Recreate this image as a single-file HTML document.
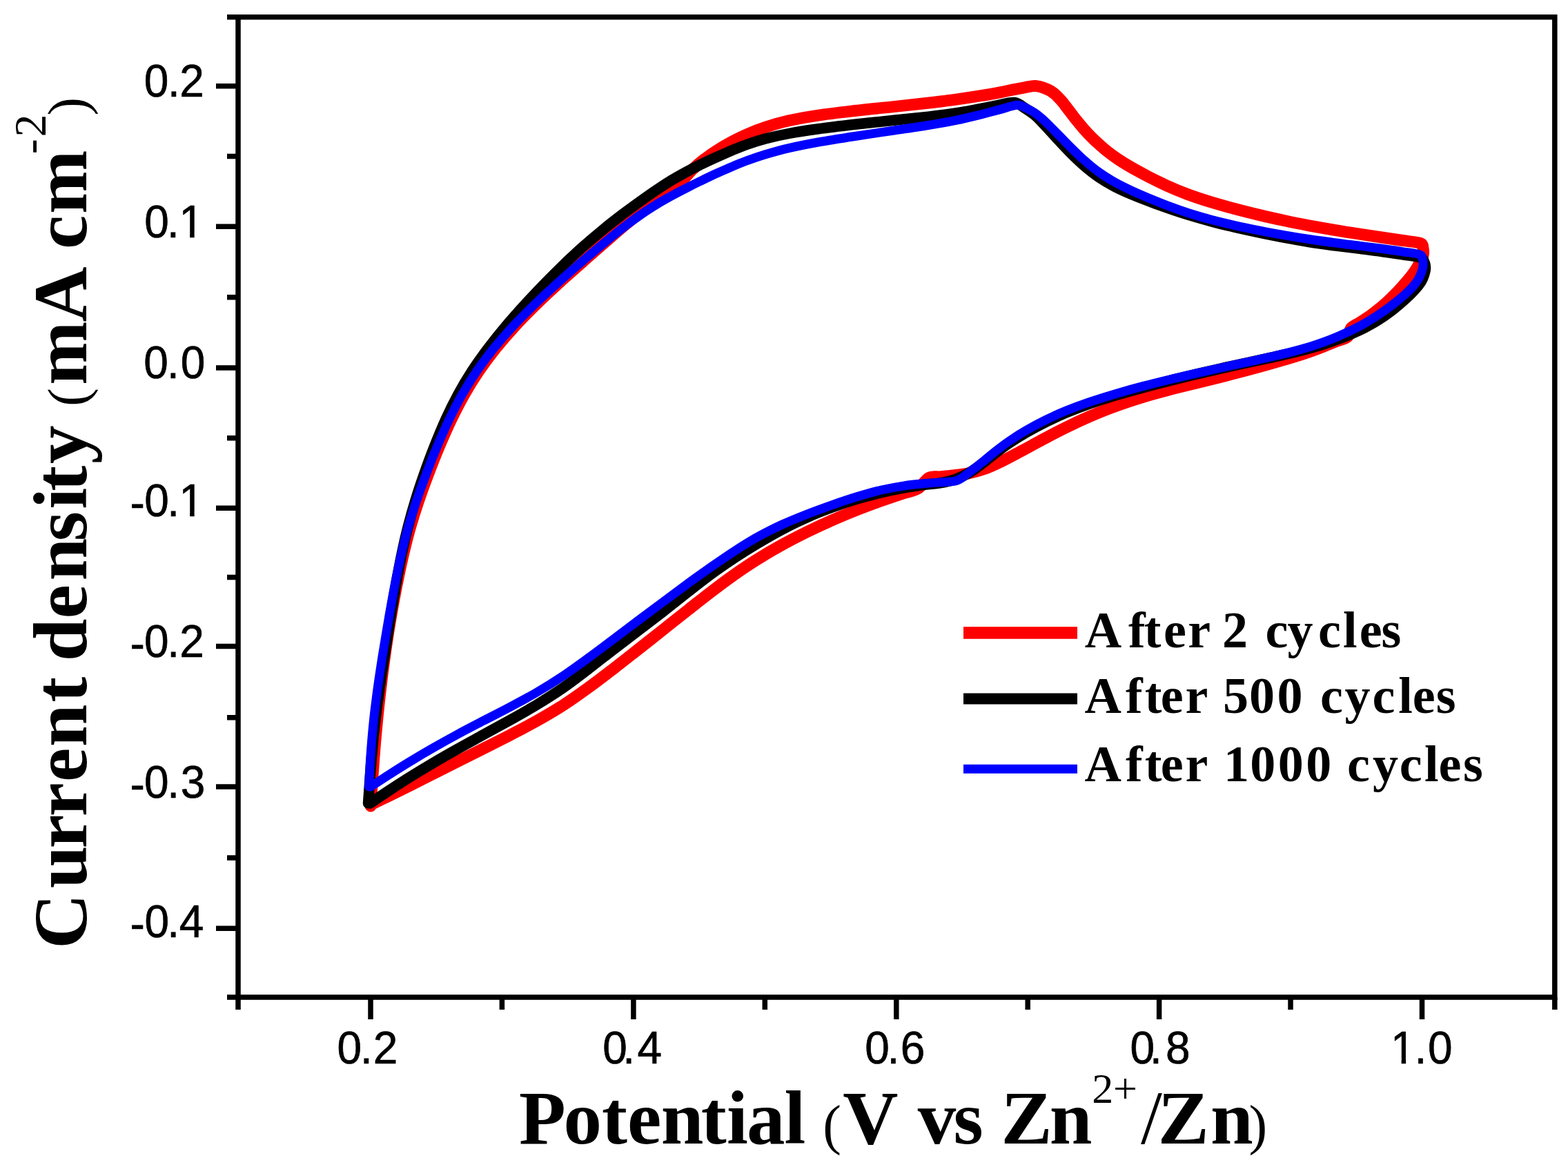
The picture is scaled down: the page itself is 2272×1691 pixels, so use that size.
<!DOCTYPE html>
<html><head><meta charset="utf-8">
<style>
html,body{margin:0;padding:0;background:#fff;width:2272px;height:1691px;overflow:hidden}
svg{display:block}
.tk{font-family:"Liberation Sans",Arial,sans-serif;font-size:67px;fill:#000}
.tb{font-family:"Liberation Serif","Times New Roman",serif;font-weight:bold;fill:#000}
.tr{font-family:"Liberation Serif","Times New Roman",serif;font-weight:normal;fill:#000}
</style></head><body>
<svg width="2272" height="1691" viewBox="0 0 2272 1691" xmlns="http://www.w3.org/2000/svg">
<rect x="0" y="0" width="2272" height="1691" fill="#fff"/>
<g id="curves" fill="none" stroke-linejoin="round" stroke-linecap="round">
<path d="M537.0,1168.0 C537.6,1159.2 539.2,1133.4 540.6,1115.1 C541.9,1096.8 543.4,1077.1 545.2,1058.2 C546.9,1039.2 549.0,1019.1 551.1,1001.5 C553.1,983.9 555.2,967.6 557.3,952.9 C559.3,938.1 561.2,925.9 563.2,913.0 C565.3,900.1 567.3,888.2 569.6,875.6 C571.9,862.9 574.4,849.7 577.1,836.9 C579.7,824.1 582.5,811.1 585.5,798.7 C588.5,786.2 591.5,774.4 595.0,762.2 C598.5,750.1 602.2,738.4 606.4,726.0 C610.6,713.6 615.1,701.0 620.1,688.1 C625.0,675.1 630.3,661.5 635.9,648.2 C641.5,634.9 647.5,621.1 653.6,608.3 C659.8,595.5 666.2,583.0 672.9,571.2 C679.6,559.4 686.4,548.5 693.9,537.5 C701.5,526.5 709.3,515.9 718.1,504.9 C727.0,493.9 736.7,482.7 747.1,471.4 C757.4,460.2 769.0,448.7 780.4,437.6 C791.9,426.4 804.2,415.3 815.9,404.6 C827.7,394.0 839.8,383.4 850.8,373.7 C861.7,364.0 872.3,354.7 881.8,346.5 C891.2,338.3 899.5,331.1 907.5,324.5 C915.5,317.9 922.7,312.4 930.0,307.0 C937.4,301.6 944.6,296.8 951.5,291.9 C958.3,286.9 965.1,282.3 971.2,277.4 C977.3,272.4 982.8,267.5 988.1,262.2 C993.4,257.0 997.7,251.2 1003.0,246.0 C1008.3,240.8 1013.9,236.1 1020.0,231.3 C1026.0,226.6 1032.6,221.9 1039.4,217.6 C1046.2,213.2 1053.4,209.1 1060.7,205.2 C1068.1,201.4 1075.2,197.8 1083.4,194.3 C1091.6,190.7 1100.0,187.3 1109.9,184.1 C1119.9,180.8 1130.5,177.6 1143.1,174.8 C1155.8,172.0 1169.8,169.4 1185.8,167.1 C1201.7,164.7 1220.5,162.6 1238.7,160.5 C1256.9,158.4 1277.4,156.5 1295.0,154.6 C1312.6,152.7 1329.1,151.0 1344.2,149.3 C1359.3,147.5 1372.7,145.9 1385.6,144.1 C1398.5,142.3 1411.0,140.4 1421.6,138.7 C1432.1,137.0 1441.2,135.3 1449.1,133.8 C1456.9,132.3 1462.5,131.0 1468.4,129.8 C1474.4,128.6 1479.3,127.7 1484.6,126.8 C1489.8,125.9 1495.0,124.3 1500.0,124.5 C1505.0,124.7 1509.9,126.3 1514.4,128.1 C1518.9,129.8 1523.0,131.9 1526.9,135.0 C1530.9,138.0 1534.4,142.0 1538.1,146.2 C1541.7,150.4 1545.3,155.5 1549.0,160.1 C1552.7,164.8 1556.3,169.8 1560.0,174.4 C1563.7,178.9 1567.3,183.4 1571.0,187.6 C1574.7,191.7 1578.3,195.5 1582.0,199.2 C1585.7,202.9 1589.2,206.2 1593.1,209.6 C1596.9,213.0 1600.5,216.2 1604.9,219.7 C1609.3,223.2 1613.8,226.6 1619.5,230.4 C1625.2,234.2 1631.8,238.3 1639.2,242.5 C1646.5,246.7 1655.0,251.3 1663.5,255.7 C1672.1,260.1 1681.1,264.7 1690.5,268.9 C1700.0,273.2 1709.7,277.3 1720.1,281.2 C1730.6,285.1 1741.8,288.8 1753.3,292.4 C1764.8,295.9 1777.0,299.3 1789.0,302.5 C1801.0,305.7 1813.2,308.8 1825.3,311.6 C1837.4,314.5 1849.5,317.2 1861.6,319.8 C1873.7,322.4 1885.9,324.8 1897.9,327.1 C1909.9,329.3 1921.9,331.4 1933.7,333.4 C1945.4,335.4 1957.0,337.2 1968.4,338.9 C1979.8,340.7 1991.3,342.4 2002.0,344.0 C2012.6,345.6 2023.0,347.1 2032.3,348.5 C2041.7,350.0 2053.1,350.6 2058.0,352.5 C2062.9,354.4 2061.3,357.1 2062.0,360.0 C2062.7,362.9 2062.8,366.6 2062.0,370.0 C2061.2,373.4 2059.1,377.0 2057.2,380.7 C2055.3,384.3 2053.5,387.8 2050.6,391.9 C2047.8,396.1 2044.4,400.6 2040.0,405.8 C2035.7,411.0 2030.2,417.3 2024.5,423.2 C2018.8,429.1 2012.1,435.7 2005.9,441.2 C1999.7,446.7 1993.0,451.8 1987.2,456.1 C1981.4,460.4 1975.9,463.8 1971.0,466.9 C1966.1,470.1 1961.1,471.5 1958.0,475.0 C1954.9,478.5 1956.2,484.7 1952.6,488.0 C1949.0,491.3 1942.0,492.4 1936.3,494.7 C1930.6,497.0 1924.7,499.4 1918.3,501.9 C1911.9,504.4 1905.3,507.0 1897.7,509.6 C1890.0,512.3 1881.7,515.0 1872.2,517.9 C1862.7,520.8 1851.8,523.9 1840.7,527.0 C1829.5,530.2 1817.2,533.6 1805.3,536.7 C1793.3,539.9 1781.1,543.1 1769.0,546.2 C1756.8,549.3 1744.8,552.2 1732.6,555.3 C1720.3,558.3 1708.2,561.1 1695.6,564.4 C1683.0,567.7 1670.0,571.1 1657.0,575.0 C1643.9,579.0 1630.2,583.4 1617.2,588.2 C1604.1,592.9 1591.0,598.2 1578.5,603.6 C1566.0,609.0 1553.8,614.8 1542.2,620.6 C1530.5,626.3 1519.3,632.4 1508.7,638.1 C1498.1,643.7 1488.2,649.3 1478.6,654.3 C1469.0,659.4 1460.1,664.3 1451.3,668.5 C1442.6,672.7 1434.4,676.6 1426.3,679.5 C1418.3,682.3 1410.5,684.3 1403.0,685.8 C1395.5,687.4 1388.0,688.1 1381.2,688.9 C1374.4,689.7 1368.0,690.3 1362.1,690.9 C1356.2,691.4 1351.4,689.3 1346.0,692.2 C1340.6,695.1 1336.6,704.1 1330.0,708.0 C1323.4,711.9 1315.4,712.6 1306.5,715.6 C1297.6,718.5 1287.4,721.9 1276.6,725.8 C1265.8,729.7 1253.5,734.2 1241.6,738.9 C1229.7,743.6 1217.4,748.7 1205.3,754.1 C1193.2,759.4 1181.1,765.0 1169.0,770.9 C1156.9,776.9 1144.6,783.2 1132.6,789.8 C1120.6,796.4 1108.5,803.5 1097.0,810.7 C1085.4,817.9 1074.3,825.4 1063.3,833.2 C1052.3,840.9 1041.9,848.8 1030.9,857.2 C1019.9,865.6 1008.8,874.5 997.2,883.6 C985.7,892.7 973.6,902.3 961.6,911.8 C949.6,921.3 937.4,931.0 925.3,940.5 C913.2,950.0 901.1,959.6 889.0,968.9 C876.9,978.2 864.8,987.6 852.6,996.4 C840.5,1005.2 828.4,1013.8 816.0,1021.8 C803.5,1029.8 790.9,1037.2 778.1,1044.4 C765.3,1051.6 752.0,1058.4 739.0,1065.2 C726.0,1071.9 712.7,1078.5 700.1,1084.9 C687.4,1091.3 675.0,1097.4 663.1,1103.4 C651.1,1109.4 639.7,1115.1 628.4,1120.8 C617.1,1126.5 605.8,1132.3 595.2,1137.6 C584.5,1142.9 574.1,1148.1 564.4,1152.8 C554.7,1157.5 541.6,1163.8 537.0,1166.0" stroke="#f00" stroke-width="17"/>
<path d="M533.5,1164.0 C534.0,1157.0 535.5,1135.7 536.5,1122.1 C537.5,1108.5 538.5,1095.8 539.8,1082.4 C541.0,1068.9 542.4,1055.8 544.1,1041.4 C545.8,1027.1 548.0,1011.4 550.1,996.5 C552.2,981.6 554.6,966.2 556.8,952.2 C558.9,938.3 560.9,925.8 562.9,913.0 C564.9,900.2 566.8,888.2 568.9,875.6 C571.0,862.9 573.2,849.7 575.5,836.9 C577.9,824.1 580.3,811.1 583.0,798.7 C585.6,786.2 588.3,774.4 591.5,762.2 C594.6,750.1 597.9,738.4 601.7,726.0 C605.5,713.6 609.7,701.0 614.2,688.1 C618.8,675.1 623.7,661.5 629.0,648.2 C634.2,634.9 639.8,621.2 645.6,608.4 C651.4,595.6 657.5,583.2 663.9,571.4 C670.3,559.6 676.8,548.8 684.1,537.5 C691.5,526.2 699.2,515.4 708.1,503.8 C716.9,492.3 726.7,480.1 737.1,467.9 C747.5,455.8 758.9,443.0 770.4,430.8 C781.8,418.5 793.9,406.1 805.7,394.4 C817.5,382.7 829.8,371.1 841.4,360.6 C853.0,350.2 864.6,340.3 875.2,331.7 C885.7,323.0 895.6,315.6 904.6,308.7 C913.7,301.9 921.6,296.1 929.5,290.5 C937.3,284.9 944.5,279.8 951.9,274.9 C959.2,269.9 966.4,265.3 973.6,260.9 C980.9,256.6 988.1,252.5 995.4,248.6 C1002.6,244.7 1009.9,241.0 1017.1,237.5 C1024.4,234.0 1031.7,230.6 1038.9,227.4 C1046.2,224.1 1053.3,220.9 1060.7,217.8 C1068.1,214.8 1075.2,211.8 1083.4,209.0 C1091.6,206.1 1100.0,203.4 1109.9,200.8 C1119.9,198.2 1130.5,195.8 1143.1,193.5 C1155.8,191.1 1169.8,189.0 1185.8,186.8 C1201.7,184.6 1220.5,182.4 1238.7,180.3 C1257.0,178.2 1277.7,176.2 1295.5,174.3 C1313.2,172.4 1330.2,170.8 1345.1,169.1 C1360.0,167.4 1372.7,165.8 1385.0,163.9 C1397.2,162.1 1408.2,159.8 1418.5,157.9 C1428.8,156.0 1438.1,154.0 1446.7,152.4 C1455.3,150.8 1463.5,147.7 1470.0,148.5 C1476.5,149.3 1480.8,154.1 1485.6,157.0 C1490.4,160.0 1494.7,163.0 1498.7,166.2 C1502.6,169.5 1505.8,172.7 1509.3,176.4 C1512.9,180.0 1516.1,183.7 1520.1,188.1 C1524.1,192.5 1528.4,197.4 1533.5,202.8 C1538.7,208.3 1544.6,214.8 1550.8,221.0 C1557.0,227.2 1564.0,234.1 1571.0,240.1 C1577.9,246.1 1585.1,251.8 1592.5,256.9 C1599.9,261.9 1607.1,266.1 1615.2,270.4 C1623.3,274.6 1632.0,278.4 1641.0,282.2 C1650.0,286.0 1660.0,289.8 1669.2,293.2 C1678.5,296.7 1687.4,299.8 1696.3,302.9 C1705.3,306.0 1713.4,308.7 1723.0,311.6 C1732.6,314.5 1742.9,317.5 1753.9,320.4 C1764.9,323.4 1777.1,326.4 1789.0,329.2 C1800.9,331.9 1813.2,334.6 1825.3,337.1 C1837.4,339.7 1849.5,342.2 1861.6,344.4 C1873.7,346.7 1885.9,348.9 1897.9,350.8 C1909.9,352.7 1921.9,354.3 1933.7,355.9 C1945.4,357.4 1957.0,358.7 1968.4,360.1 C1979.8,361.6 1991.3,363.0 2001.9,364.5 C2012.5,365.9 2022.8,367.4 2031.9,368.8 C2041.1,370.3 2051.8,371.5 2057.0,373.0 C2062.2,374.5 2061.6,375.5 2063.0,378.0 C2064.4,380.5 2065.4,384.6 2065.5,388.0 C2065.6,391.4 2064.6,394.7 2063.5,398.2 C2062.4,401.6 2061.3,404.8 2059.0,408.5 C2056.6,412.2 2053.5,416.1 2049.4,420.5 C2045.3,425.0 2039.8,430.3 2034.2,435.3 C2028.5,440.4 2021.9,446.0 2015.6,450.8 C2009.3,455.6 2002.7,460.2 1996.2,464.3 C1989.8,468.3 1983.3,471.8 1976.9,475.2 C1970.4,478.5 1964.0,481.3 1957.5,484.1 C1951.0,486.9 1944.6,489.4 1938.1,491.8 C1931.6,494.2 1925.3,496.4 1918.6,498.5 C1911.9,500.7 1905.4,502.6 1897.7,504.7 C1889.9,506.9 1881.7,508.9 1872.2,511.2 C1862.7,513.5 1851.8,515.9 1840.7,518.4 C1829.5,520.9 1817.2,523.4 1805.3,526.0 C1793.3,528.6 1781.1,531.2 1769.0,534.0 C1756.9,536.7 1744.8,539.5 1732.6,542.4 C1720.4,545.3 1708.3,548.3 1695.7,551.4 C1683.1,554.6 1670.1,557.9 1657.0,561.5 C1643.9,565.0 1630.2,568.8 1617.2,572.7 C1604.2,576.6 1591.1,580.8 1579.1,585.0 C1567.0,589.2 1555.7,593.5 1545.0,597.9 C1534.3,602.4 1524.5,607.0 1514.9,611.7 C1505.3,616.4 1496.3,621.3 1487.7,626.2 C1479.1,631.1 1470.8,636.2 1463.3,641.3 C1455.7,646.3 1448.9,651.4 1442.3,656.5 C1435.7,661.5 1429.8,666.7 1423.6,671.4 C1417.3,676.1 1411.4,680.9 1404.8,684.7 C1398.3,688.6 1391.4,692.0 1384.3,694.5 C1377.2,697.1 1369.5,698.6 1362.1,699.9 C1354.8,701.2 1348.6,701.1 1340.0,702.3 C1331.4,703.5 1320.7,705.0 1310.3,706.9 C1299.8,708.8 1288.7,711.0 1277.2,713.7 C1265.8,716.4 1253.6,719.6 1241.6,723.2 C1229.6,726.8 1217.4,730.8 1205.3,735.3 C1193.2,739.7 1181.1,744.4 1169.0,749.8 C1156.9,755.2 1144.6,761.2 1132.6,767.6 C1120.6,773.9 1108.5,781.0 1097.0,787.9 C1085.4,794.8 1074.3,801.7 1063.3,809.0 C1052.3,816.3 1041.9,823.4 1030.9,831.5 C1019.9,839.6 1008.8,848.4 997.2,857.4 C985.7,866.4 973.6,876.2 961.6,885.5 C949.6,894.8 937.4,904.1 925.3,913.3 C913.2,922.5 901.1,931.7 889.0,941.0 C876.9,950.3 864.8,960.1 852.6,969.3 C840.5,978.6 828.4,987.9 816.0,996.6 C803.5,1005.2 790.9,1013.2 778.1,1021.0 C765.3,1028.9 752.0,1036.2 739.0,1043.5 C726.0,1050.7 712.7,1057.9 700.1,1064.8 C687.4,1071.8 675.0,1078.5 663.1,1085.2 C651.1,1091.9 639.7,1098.4 628.4,1105.1 C617.1,1111.8 605.8,1118.6 595.1,1125.3 C584.4,1132.0 573.9,1138.8 564.1,1145.2 C554.2,1151.7 540.7,1160.9 536.0,1164.0" stroke="#000" stroke-width="15.5"/>
<path d="M534.5,1140.0 C534.9,1132.5 535.9,1110.7 537.0,1095.2 C538.1,1079.8 539.4,1063.5 541.1,1047.2 C542.7,1030.9 545.0,1013.4 547.1,997.6 C549.3,981.8 551.7,966.4 553.9,952.2 C556.2,938.1 558.3,925.8 560.4,913.0 C562.6,900.2 564.6,888.2 566.9,875.6 C569.2,862.9 571.6,849.7 574.2,836.9 C576.8,824.1 579.5,811.1 582.5,798.7 C585.5,786.2 588.5,774.4 592.0,762.2 C595.5,750.1 599.2,738.4 603.4,726.0 C607.6,713.6 612.1,701.0 617.1,688.1 C622.0,675.1 627.3,661.5 632.9,648.2 C638.5,634.9 644.5,621.1 650.6,608.3 C656.8,595.5 663.1,583.0 669.9,571.2 C676.6,559.4 683.4,548.5 691.0,537.5 C698.6,526.5 706.4,515.9 715.3,504.9 C724.3,493.9 734.1,482.7 744.6,471.4 C755.1,460.2 766.7,448.7 778.3,437.6 C789.9,426.4 802.3,415.2 814.1,404.6 C826.0,394.0 838.2,383.4 849.4,373.9 C860.5,364.3 871.3,355.3 880.9,347.4 C890.5,339.6 899.0,332.8 907.2,326.6 C915.3,320.3 922.5,315.1 930.0,310.0 C937.4,304.9 944.6,300.4 951.9,295.9 C959.1,291.5 966.4,287.5 973.6,283.5 C980.9,279.5 988.1,275.8 995.4,272.1 C1002.6,268.4 1009.9,264.8 1017.1,261.3 C1024.4,257.8 1031.7,254.3 1038.9,251.0 C1046.2,247.7 1053.3,244.5 1060.7,241.4 C1068.1,238.3 1075.2,235.4 1083.4,232.4 C1091.6,229.4 1100.0,226.5 1109.9,223.5 C1119.9,220.6 1130.5,217.5 1143.1,214.6 C1155.8,211.7 1169.8,208.9 1185.8,206.0 C1201.7,203.2 1220.5,200.3 1238.7,197.5 C1257.0,194.6 1277.7,191.7 1295.5,189.0 C1313.2,186.4 1330.2,184.0 1345.1,181.5 C1360.0,179.1 1372.7,176.9 1385.0,174.4 C1397.2,171.9 1408.2,169.2 1418.8,166.6 C1429.3,164.0 1439.0,161.3 1448.2,158.9 C1457.4,156.5 1467.5,152.6 1474.0,152.3 C1480.5,152.0 1483.0,155.1 1487.1,156.9 C1491.3,158.7 1495.2,160.7 1498.9,163.1 C1502.6,165.5 1505.8,168.2 1509.3,171.3 C1512.9,174.4 1516.1,177.5 1520.1,181.5 C1524.1,185.5 1528.4,189.9 1533.5,195.1 C1538.7,200.4 1544.6,206.6 1550.8,212.8 C1557.0,219.0 1564.0,226.0 1571.0,232.1 C1577.9,238.3 1585.1,244.3 1592.5,249.6 C1599.9,254.9 1607.1,259.4 1615.2,263.9 C1623.3,268.5 1632.0,272.6 1641.0,276.8 C1650.0,280.9 1660.0,285.1 1669.2,288.9 C1678.5,292.7 1687.4,296.3 1696.3,299.6 C1705.3,303.0 1713.4,305.9 1723.0,309.0 C1732.6,312.0 1742.9,315.1 1753.9,318.0 C1764.9,320.9 1777.1,323.9 1789.0,326.6 C1800.9,329.2 1813.2,331.7 1825.3,334.1 C1837.4,336.5 1849.5,338.8 1861.6,340.9 C1873.7,343.0 1885.9,345.0 1897.9,346.8 C1909.9,348.6 1921.9,350.2 1933.7,351.7 C1945.4,353.3 1957.0,354.6 1968.4,356.0 C1979.8,357.5 1991.3,358.9 2001.8,360.3 C2012.4,361.7 2022.5,363.2 2031.6,364.6 C2040.6,365.9 2051.1,366.9 2056.0,368.5 C2060.9,370.1 2060.0,371.2 2061.0,374.0 C2062.0,376.8 2062.2,381.5 2062.0,385.0 C2061.8,388.5 2060.8,391.5 2059.6,394.8 C2058.4,398.2 2057.2,401.5 2054.9,405.1 C2052.7,408.7 2049.9,412.4 2046.2,416.5 C2042.4,420.5 2037.7,425.0 2032.6,429.4 C2027.5,433.9 2021.3,438.9 2015.3,443.4 C2009.2,448.0 2002.6,452.7 1996.2,456.9 C1989.8,461.2 1983.3,465.1 1976.9,468.8 C1970.4,472.5 1964.0,475.8 1957.5,478.9 C1951.0,482.1 1944.6,484.9 1938.1,487.7 C1931.6,490.4 1925.3,492.9 1918.6,495.4 C1911.9,497.9 1905.4,500.1 1897.7,502.5 C1889.9,504.8 1881.7,507.1 1872.2,509.6 C1862.7,512.0 1851.8,514.6 1840.7,517.2 C1829.5,519.8 1817.2,522.4 1805.3,525.1 C1793.3,527.7 1781.1,530.3 1769.0,533.0 C1756.9,535.6 1744.8,538.3 1732.6,541.1 C1720.4,543.9 1708.3,546.6 1695.7,549.7 C1683.1,552.7 1670.1,555.9 1657.0,559.4 C1643.9,562.8 1630.2,566.6 1617.2,570.4 C1604.2,574.2 1591.1,578.3 1579.1,582.4 C1567.0,586.5 1555.7,590.7 1545.0,595.1 C1534.3,599.4 1524.5,603.9 1514.9,608.6 C1505.3,613.3 1496.3,618.2 1487.7,623.2 C1479.1,628.1 1470.8,633.3 1463.3,638.5 C1455.7,643.6 1448.9,648.9 1442.3,654.1 C1435.7,659.3 1429.7,664.6 1423.6,669.5 C1417.4,674.5 1411.5,679.3 1405.4,683.7 C1399.3,688.1 1394.3,693.6 1387.2,696.1 C1380.1,698.7 1370.6,698.1 1362.7,698.9 C1354.8,699.6 1348.7,699.7 1340.0,700.5 C1331.3,701.3 1320.7,702.2 1310.3,703.8 C1299.8,705.4 1288.7,707.4 1277.2,710.0 C1265.8,712.7 1253.6,716.2 1241.6,719.8 C1229.6,723.5 1217.4,727.6 1205.3,731.8 C1193.2,736.1 1180.9,740.5 1169.0,745.2 C1157.0,749.9 1144.9,754.8 1133.5,760.0 C1122.1,765.2 1111.3,770.6 1100.5,776.5 C1089.7,782.4 1079.6,788.6 1068.6,795.7 C1057.6,802.7 1046.2,810.6 1034.5,818.7 C1022.7,826.9 1010.3,835.8 998.1,844.6 C986.0,853.5 973.7,862.6 961.6,871.6 C949.5,880.6 937.4,889.7 925.3,898.7 C913.2,907.8 901.1,917.0 889.0,926.1 C876.9,935.2 864.8,944.4 852.6,953.3 C840.5,962.1 828.4,971.0 816.0,979.3 C803.5,987.6 790.9,995.5 778.1,1003.0 C765.3,1010.6 752.0,1017.5 739.0,1024.5 C726.0,1031.4 712.7,1038.0 700.0,1044.6 C687.4,1051.2 674.9,1057.6 662.9,1064.1 C651.0,1070.5 639.5,1076.9 628.2,1083.4 C616.9,1089.8 605.8,1096.4 595.2,1102.9 C584.6,1109.3 574.3,1115.8 564.6,1122.0 C554.9,1128.2 541.6,1137.0 537.0,1140.0" stroke="#00f" stroke-width="13"/>
</g>
<g stroke="#000" stroke-width="7.5" fill="none" stroke-linecap="butt">
<path d="M345,24.7 H2252.8 V1444.9 H345 Z"/>
<path d="M313,124.7 H345 M313,328.3 H345 M313,533.1 H345 M313,736.3 H345 M313,936.6 H345 M313,1139.9 H345 M313,1345.3 H345"/>
<path d="M329,24.7 H345 M329,226.5 H345 M329,430.7 H345 M329,634.7 H345 M329,836.5 H345 M329,1039.7 H345 M329,1243 H345 M329,1444.9 H345"/>
<path d="M537,1444.9 V1477 M917.9,1444.9 V1477 M1298.8,1444.9 V1477 M1679.6,1444.9 V1477 M2060.5,1444.9 V1477"/>
<path d="M345,1444.9 V1463 M727.4,1444.9 V1463 M1108.3,1444.9 V1463 M1489.2,1444.9 V1463 M1870,1444.9 V1463 M2252.8,1444.9 V1463"/>
</g>
<g class="tk" transform="scale(0.955,1)" stroke="#000" stroke-width="0.7">
<text x="218.5 254.5 272.5" y="140.3">0.2</text>
<text x="219.0 253.5 271.7" y="344.5">0.1</text><rect x="274.80" y="337.99" width="13.29" height="8.51" fill="#fff" stroke="none"/><rect x="294.92" y="337.99" width="12.77" height="8.51" fill="#fff" stroke="none"/>
<text x="218.1 253.3 274.1" y="548.4">0.0</text>
<text x="197.4" y="750.8">-</text><text x="219.0 253.6 271.7" y="748.0">0.1</text><rect x="274.80" y="741.49" width="13.29" height="8.51" fill="#fff" stroke="none"/><rect x="294.92" y="741.49" width="12.77" height="8.51" fill="#fff" stroke="none"/>
<text x="197.4" y="954.8">-</text><text x="218.8 253.6 272.5" y="952.0">0.2</text>
<text x="197.4" y="1158.8">-</text><text x="218.8 253.6 274.2" y="1156.0">0.3</text>
<text x="197.4" y="1361.3">-</text><text x="219.4 253.7 271.9" y="1358.5">0.4</text>
<text x="511.4 546.6 566.2" y="1540.6">0.2</text>
<text x="914.3 944.8 966.9" y="1540.6">0.4</text>
<text x="1312.3 1346.1 1366.3" y="1540.6">0.6</text>
<text x="1714.7 1744.6 1768.7" y="1540.6">0.8</text>
<text x="2109.9 2146.1 2166.5" y="1540.6">1.0</text><rect x="2113.00" y="1534.09" width="13.29" height="8.51" fill="#fff" stroke="none"/><rect x="2133.12" y="1534.09" width="12.77" height="8.51" fill="#fff" stroke="none"/>
</g>
<text class="tb" font-size="111" x="752.0 816.5 871.9 909.0 957.7 1015.7 1052.9 1082.0 1136.4" y="1657.2">Potential</text>
<text class="tr" font-size="80" x="1192.2" y="1657.2">(</text>
<text class="tb" font-size="111" x="1221.3 1301.4 1329.8 1381.6 1424.8 1450.6 1520.7" y="1657.2">V vs Zn</text>
<text class="tr" font-size="62" x="1582.3 1612.9" y="1598.3">2+</text>
<text class="tr" font-size="111" x="1653.0" y="1657.2">/</text>
<text class="tb" font-size="111" x="1677.7 1754.0" y="1657.2">Zn</text>
<text class="tr" font-size="80" x="1809.4" y="1657.2">)</text>
<g transform="rotate(-90)">
<text class="tb" font-size="111" x="-1374.9 -1287.2 -1229.6 -1183.2 -1133.1 -1082.2 -1017.8 -980.8 -958.2 -896.5 -841.5 -784.2 -737.7 -711.7 -672.1" y="125.0">Current density</text>
<text class="tr" font-size="80" x="-588.7" y="125.0">(</text>
<text class="tb" font-size="111" x="-558.0 -466.5 -386.3 -361.0 -310.0" y="125.0">mA cm</text>
<text class="tr" font-size="66" x="-223.3 -198.4" y="65.5">-2</text>
<text class="tr" font-size="80" x="-167.6" y="125.0">)</text>
</g>
<g stroke-linecap="butt">
<path d="M1396,917.1 H1561" stroke="#f00" stroke-width="17.5"/>
<path d="M1396,1012.5 H1561" stroke="#000" stroke-width="16"/>
<path d="M1396,1114.2 H1561" stroke="#00f" stroke-width="13"/>
</g>
<g class="tb" font-size="74">
<text x="1571.7 1635.0 1657.8 1685.9 1721.3 1754.2 1770.9 1807.9 1833.4 1865.6 1910.0 1946.0 1969.7 2001.5" y="937.7">After 2 cycles</text>
<text x="1571.5 1631.1 1658.8 1681.8 1717.5 1750.4 1771.9 1809.9 1850.4 1887.4 1912.9 1948.5 1988.6 2026.2 2046.7 2080.8" y="1033.2">After 500 cycles</text>
<text x="1571.5 1631.1 1658.8 1681.8 1717.5 1750.4 1773.0 1811.2 1851.8 1892.3 1929.3 1952.1 1989.0 2027.8 2064.0 2084.5 2120.0" y="1132.3">After 1000 cycles</text>
</g>
</svg>
</body></html>
